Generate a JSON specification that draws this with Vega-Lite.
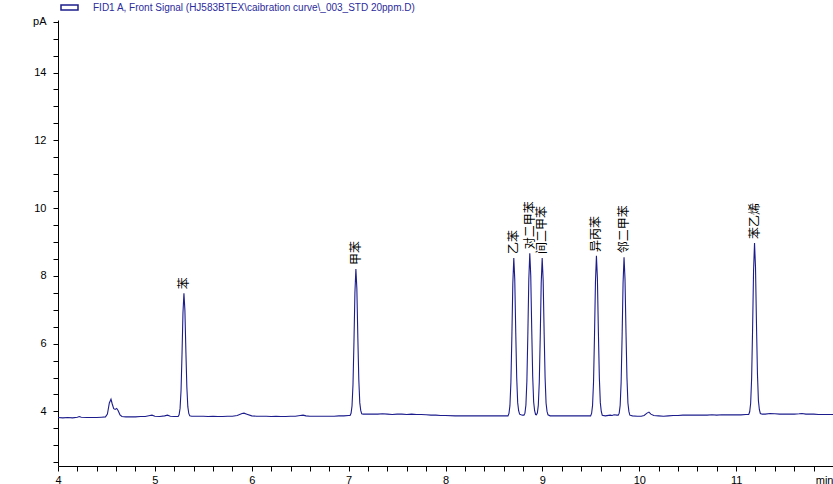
{
  "$schema": "https://vega.github.io/schema/vega-lite/v6.json",
  "autosize": {"type": "none"},
  "width": 775,
  "height": 446,
  "padding": {"left": 58, "top": 20, "right": 0, "bottom": 18},
  "background": "white",
  "config": {
    "view": {"stroke": null},
    "axis": {"labelFont": "Liberation Sans", "labelFontSize": 11, "labelColor": "#000000", "domainColor": "#000000", "tickColor": "#000000", "grid": false, "title": null, "tickSize": 5, "domainWidth": 1, "tickWidth": 1}
  },
  "datasets": {
    "sig": [
      {"t":4.00,"v":3.82},{"t":4.05,"v":3.81},{"t":4.10,"v":3.82},{"t":4.15,"v":3.81},{"t":4.20,"v":3.83},{"t":4.22,"v":3.85},{"t":4.24,"v":3.83},{"t":4.30,"v":3.82},{"t":4.35,"v":3.82},{"t":4.40,"v":3.82},{"t":4.45,"v":3.83},{"t":4.49,"v":3.84},
      {"t":4.51,"v":3.92},{"t":4.53,"v":4.25},{"t":4.547,"v":4.36},{"t":4.56,"v":4.22},{"t":4.575,"v":4.08},{"t":4.59,"v":4.06},{"t":4.606,"v":4.09},{"t":4.62,"v":4.03},{"t":4.64,"v":3.90},{"t":4.66,"v":3.85},
      {"t":4.70,"v":3.84},{"t":4.75,"v":3.84},{"t":4.80,"v":3.84},{"t":4.85,"v":3.85},{"t":4.90,"v":3.85},{"t":4.95,"v":3.88},{"t":4.97,"v":3.89},{"t":5.00,"v":3.86},{"t":5.05,"v":3.85},{"t":5.10,"v":3.87},{"t":5.13,"v":3.89},{"t":5.16,"v":3.86},{"t":5.20,"v":3.85},{"t":5.24,"v":3.85},
      {"t":5.25,"v":3.90},{"t":5.26,"v":4.09},{"t":5.27,"v":4.61},{"t":5.28,"v":5.67},{"t":5.29,"v":6.91},{"t":5.30,"v":7.49},{"t":5.31,"v":6.98},{"t":5.32,"v":5.78},{"t":5.33,"v":4.72},{"t":5.34,"v":4.14},{"t":5.35,"v":3.94},{"t":5.36,"v":3.87},{"t":5.38,"v":3.86},
      {"t":5.45,"v":3.86},{"t":5.50,"v":3.86},{"t":5.55,"v":3.85},{"t":5.60,"v":3.86},{"t":5.65,"v":3.85},{"t":5.70,"v":3.85},{"t":5.75,"v":3.86},{"t":5.80,"v":3.86},{"t":5.85,"v":3.88},{"t":5.90,"v":3.94},{"t":5.92,"v":3.95},{"t":5.95,"v":3.92},{"t":6.00,"v":3.87},
      {"t":6.05,"v":3.86},{"t":6.10,"v":3.86},{"t":6.15,"v":3.86},{"t":6.20,"v":3.85},{"t":6.25,"v":3.86},{"t":6.30,"v":3.85},{"t":6.35,"v":3.85},{"t":6.40,"v":3.86},{"t":6.45,"v":3.86},{"t":6.50,"v":3.88},{"t":6.53,"v":3.89},{"t":6.56,"v":3.87},{"t":6.60,"v":3.86},{"t":6.70,"v":3.86},{"t":6.75,"v":3.86},{"t":6.80,"v":3.86},{"t":6.85,"v":3.86},{"t":6.90,"v":3.87},{"t":6.95,"v":3.87},{"t":7.00,"v":3.88},{"t":7.015,"v":3.88},
      {"t":7.025,"v":3.945},{"t":7.035,"v":4.16},{"t":7.045,"v":4.79},{"t":7.055,"v":6.04},{"t":7.065,"v":7.51},{"t":7.075,"v":8.20},{"t":7.085,"v":7.62},{"t":7.095,"v":6.19},{"t":7.105,"v":4.94},{"t":7.115,"v":4.26},{"t":7.125,"v":4.03},{"t":7.135,"v":3.93},{"t":7.15,"v":3.92},
      {"t":7.20,"v":3.92},{"t":7.25,"v":3.92},{"t":7.30,"v":3.92},{"t":7.35,"v":3.93},{"t":7.40,"v":3.92},{"t":7.45,"v":3.91},{"t":7.50,"v":3.92},{"t":7.55,"v":3.92},{"t":7.60,"v":3.91},{"t":7.65,"v":3.92},{"t":7.70,"v":3.91},{"t":7.75,"v":3.91},{"t":7.80,"v":3.90},{"t":7.85,"v":3.89},{"t":7.90,"v":3.89},{"t":7.95,"v":3.88},{"t":8.00,"v":3.88},{"t":8.10,"v":3.87},{"t":8.20,"v":3.87},{"t":8.30,"v":3.87},{"t":8.40,"v":3.87},{"t":8.50,"v":3.87},{"t":8.60,"v":3.87},{"t":8.645,"v":3.87},
      {"t":8.655,"v":3.94},{"t":8.665,"v":4.17},{"t":8.675,"v":4.85},{"t":8.685,"v":6.20},{"t":8.695,"v":7.78},{"t":8.705,"v":8.53},{"t":8.715,"v":7.89},{"t":8.725,"v":6.35},{"t":8.735,"v":5.00},{"t":8.745,"v":4.26},{"t":8.755,"v":4.02},{"t":8.765,"v":3.92},{"t":8.78,"v":3.90},{"t":8.795,"v":3.89},{"t":8.81,"v":3.89},
      {"t":8.82,"v":3.95},{"t":8.83,"v":4.19},{"t":8.84,"v":4.89},{"t":8.85,"v":6.28},{"t":8.86,"v":7.90},{"t":8.87,"v":8.67},{"t":8.88,"v":8.01},{"t":8.89,"v":6.43},{"t":8.90,"v":5.04},{"t":8.91,"v":4.28},{"t":8.92,"v":4.02},{"t":8.93,"v":3.91},{"t":8.938,"v":3.90},
      {"t":8.948,"v":3.95},{"t":8.958,"v":4.18},{"t":8.968,"v":4.86},{"t":8.978,"v":6.21},{"t":8.988,"v":7.79},{"t":8.998,"v":8.53},{"t":9.008,"v":7.88},{"t":9.018,"v":6.34},{"t":9.028,"v":5.00},{"t":9.038,"v":4.25},{"t":9.048,"v":4.00},{"t":9.058,"v":3.90},{"t":9.08,"v":3.87},
      {"t":9.15,"v":3.87},{"t":9.20,"v":3.87},{"t":9.25,"v":3.87},{"t":9.30,"v":3.87},{"t":9.35,"v":3.87},{"t":9.40,"v":3.87},{"t":9.45,"v":3.87},{"t":9.498,"v":3.87},
      {"t":9.508,"v":3.94},{"t":9.518,"v":4.18},{"t":9.528,"v":4.86},{"t":9.538,"v":6.23},{"t":9.548,"v":7.83},{"t":9.558,"v":8.59},{"t":9.568,"v":7.93},{"t":9.578,"v":6.37},{"t":9.588,"v":5.00},{"t":9.598,"v":4.26},{"t":9.608,"v":4.00},{"t":9.618,"v":3.89},{"t":9.65,"v":3.87},{"t":9.70,"v":3.89},{"t":9.72,"v":3.88},{"t":9.74,"v":3.90},{"t":9.77,"v":3.89},{"t":9.783,"v":3.89},
      {"t":9.793,"v":3.95},{"t":9.803,"v":4.18},{"t":9.813,"v":4.86},{"t":9.823,"v":6.22},{"t":9.833,"v":7.80},{"t":9.843,"v":8.55},{"t":9.853,"v":7.90},{"t":9.863,"v":6.36},{"t":9.873,"v":5.00},{"t":9.883,"v":4.25},{"t":9.893,"v":4.00},{"t":9.903,"v":3.89},{"t":9.93,"v":3.87},
      {"t":9.98,"v":3.86},{"t":10.02,"v":3.86},{"t":10.05,"v":3.88},{"t":10.08,"v":3.95},{"t":10.10,"v":3.98},{"t":10.12,"v":3.92},{"t":10.15,"v":3.88},{"t":10.20,"v":3.87},{"t":10.25,"v":3.86},{"t":10.30,"v":3.87},{"t":10.35,"v":3.88},{"t":10.40,"v":3.88},{"t":10.45,"v":3.89},{"t":10.50,"v":3.89},{"t":10.55,"v":3.89},{"t":10.60,"v":3.89},{"t":10.65,"v":3.89},{"t":10.70,"v":3.89},{"t":10.75,"v":3.90},{"t":10.80,"v":3.89},{"t":10.85,"v":3.90},{"t":10.90,"v":3.90},{"t":10.95,"v":3.90},{"t":11.00,"v":3.90},{"t":11.05,"v":3.90},{"t":11.10,"v":3.91},{"t":11.13,"v":3.91},
      {"t":11.14,"v":3.99},{"t":11.15,"v":4.24},{"t":11.16,"v":4.97},{"t":11.17,"v":6.44},{"t":11.18,"v":8.16},{"t":11.19,"v":8.97},{"t":11.20,"v":8.26},{"t":11.21,"v":6.59},{"t":11.22,"v":5.12},{"t":11.23,"v":4.32},{"t":11.24,"v":4.05},{"t":11.25,"v":3.94},{"t":11.27,"v":3.92},
      {"t":11.30,"v":3.92},{"t":11.35,"v":3.94},{"t":11.40,"v":3.93},{"t":11.45,"v":3.92},{"t":11.50,"v":3.92},{"t":11.55,"v":3.92},{"t":11.60,"v":3.92},{"t":11.65,"v":3.93},{"t":11.68,"v":3.94},{"t":11.72,"v":3.92},{"t":11.80,"v":3.92},{"t":11.85,"v":3.91},{"t":11.90,"v":3.91},{"t":11.95,"v":3.91},{"t":12.00,"v":3.91}
    ],
    "pk": [
      {"name":"苯","t":5.30,"v":7.49},
      {"name":"甲苯","t":7.075,"v":8.20},
      {"name":"乙苯","t":8.705,"v":8.53},
      {"name":"对二甲苯","t":8.87,"v":8.67},
      {"name":"间二甲苯","t":8.998,"v":8.53},
      {"name":"异丙苯","t":9.558,"v":8.59},
      {"name":"邻二甲苯","t":9.843,"v":8.55},
      {"name":"苯乙烯","t":11.19,"v":8.97}
    ]
  },
  "encoding": {
    "x": {"field": "t", "type": "quantitative", "scale": {"domain": [4, 12], "nice": false, "zero": false},
      "axis": {"values": [4,4.2,4.4,4.6,4.8,5,5.2,5.4,5.6,5.8,6,6.2,6.4,6.6,6.8,7,7.2,7.4,7.6,7.8,8,8.2,8.4,8.6,8.8,9,9.2,9.4,9.6,9.8,10,10.2,10.4,10.6,10.8,11,11.2,11.4,11.6,11.8,12],
        "labelExpr": "datum.value == 12 ? 'min' : (datum.value % 1 === 0 ? format(datum.value, 'd') : '')",
        "labelAlign": {"condition": {"test": "datum.value == 12", "value": "right"}, "value": "center"},
        "labelOverlap": false, "labelBound": false, "labelFlush": false, "labelPadding": 3}},
    "y": {"field": "v", "type": "quantitative", "scale": {"domain": [2.39, 15.55], "nice": false, "zero": false},
      "axis": {"values": [2.5,3,3.5,4,4.5,5,5.5,6,6.5,7,7.5,8,8.5,9,9.5,10,10.5,11,11.5,12,12.5,13,13.5,14,14.5,15,15.5],
        "labelExpr": "datum.value == 15.5 ? 'pA' : (datum.value % 2 === 0 ? format(datum.value, 'd') : '')",
        "labelOverlap": false, "labelBound": false, "labelPadding": 7}}
  },
  "layer": [
    {
      "data": {"name": "sig"},
      "mark": {"type": "line", "strokeWidth": 1.1, "interpolate": "linear"},
      "encoding": {
        "color": {"datum": "FID1 A, Front Signal (HJ583BTEX\\caibration curve\\_003_STD 20ppm.D)", "type": "nominal",
          "scale": {"range": ["#1c1c8c"]},
          "legend": {"orient": "none", "legendX": 2, "legendY": -22, "title": null, "padding": 0,
            "symbolType": "M-1,-0.3H1V0.3H-1Z", "symbolSize": 289, "symbolStrokeWidth": 1.5, "symbolFillColor": "white", "symbolStrokeColor": "#1c1c8c",
            "labelFont": "Liberation Sans", "labelFontSize": 10, "labelColor": "#2b2b9b", "labelOffset": 14, "labelLimit": 600}}
      }
    },
    {
      "data": {"name": "pk"},
      "mark": {"type": "text", "angle": 270, "align": "left", "baseline": "middle", "dx": 4, "font": "Noto Sans CJK SC", "fontSize": 12, "color": "#000000"},
      "encoding": {
        "text": {"field": "name"}
      }
    }
  ]
}
